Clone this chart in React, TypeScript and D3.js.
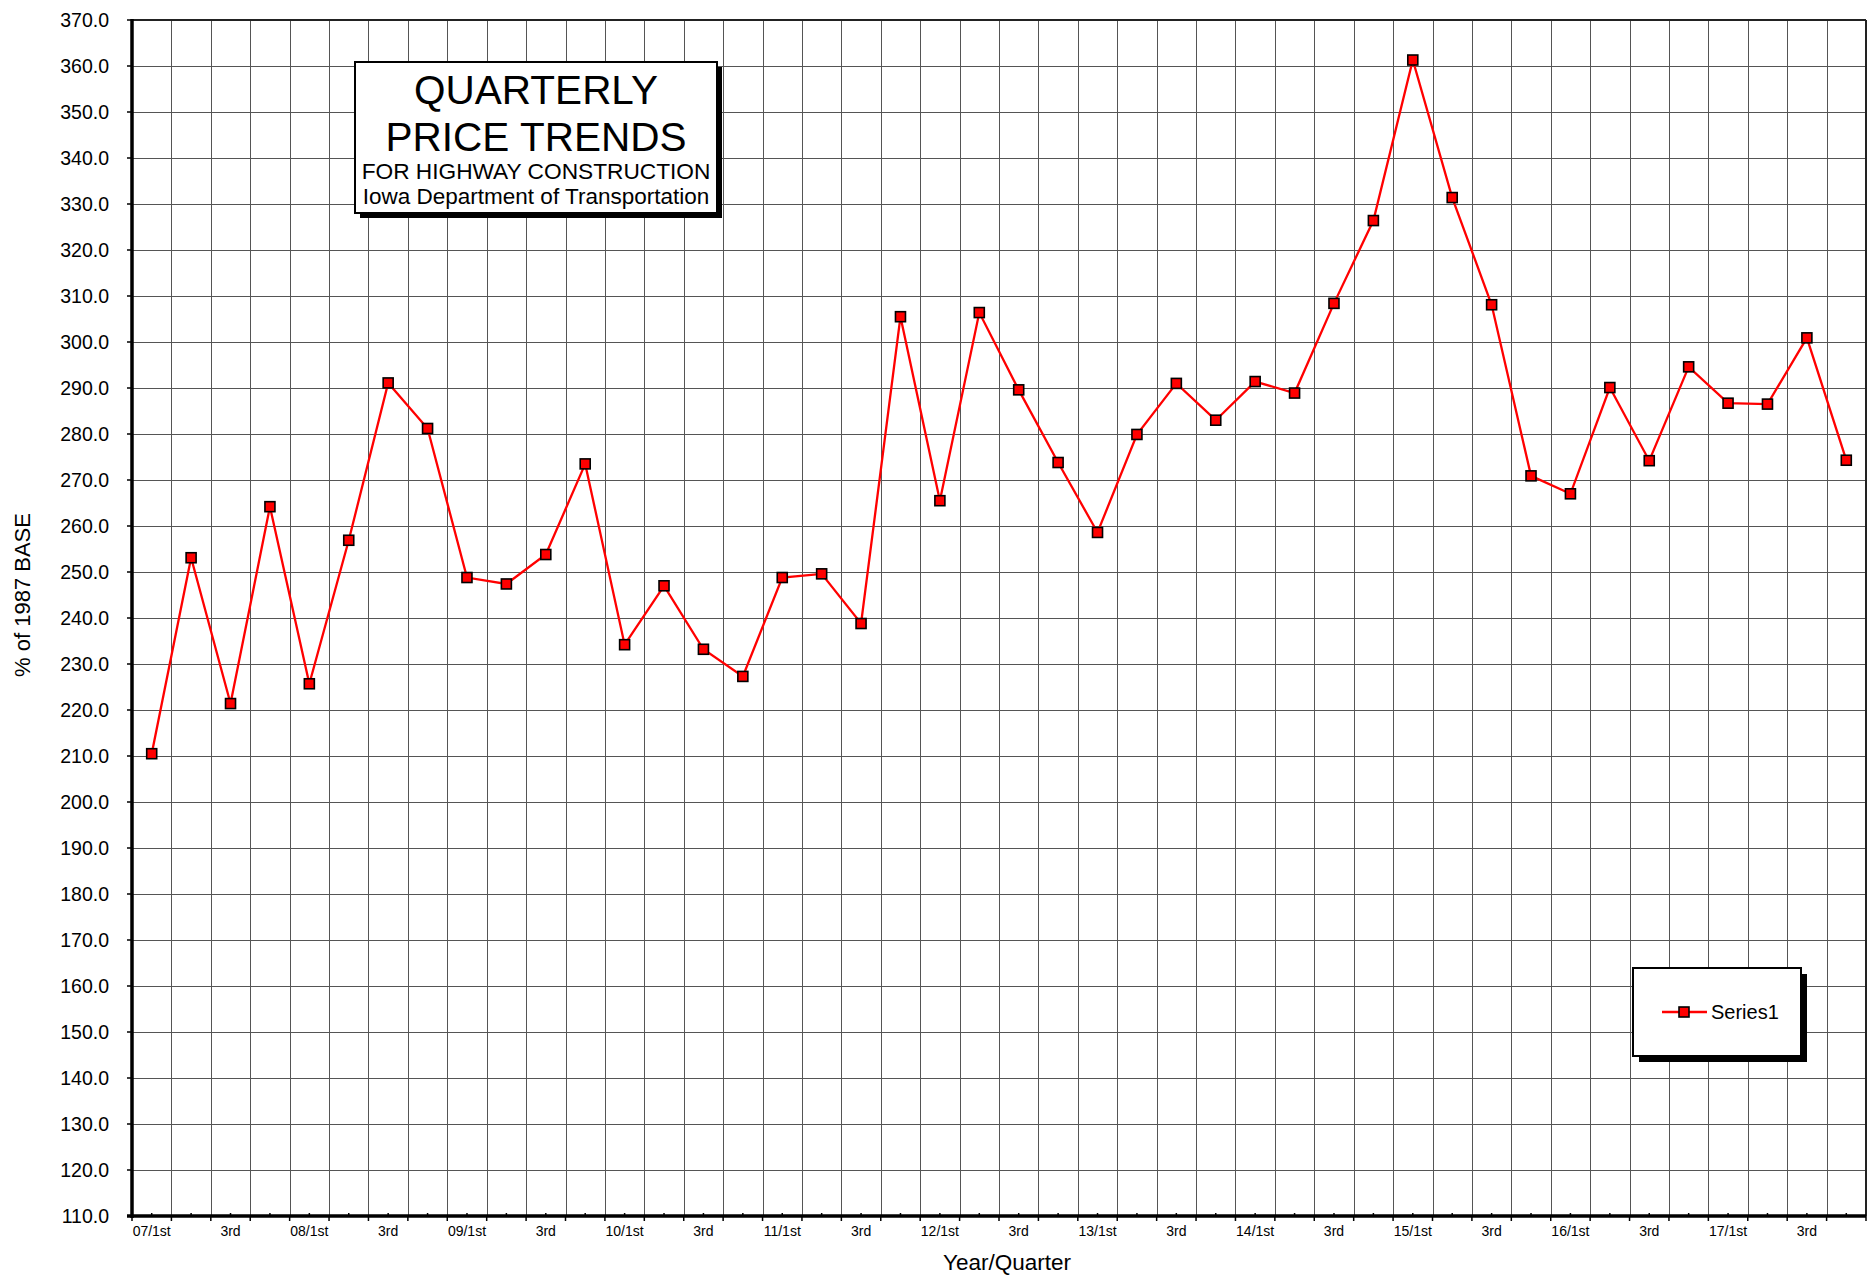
import React from "react";
import * as d3 from "d3";

const categories: string[] = [
  "07/1st", "2nd", "3rd", "4th",
  "08/1st", "2nd", "3rd", "4th",
  "09/1st", "2nd", "3rd", "4th",
  "10/1st", "2nd", "3rd", "4th",
  "11/1st", "2nd", "3rd", "4th",
  "12/1st", "2nd", "3rd", "4th",
  "13/1st", "2nd", "3rd", "4th",
  "14/1st", "2nd", "3rd", "4th",
  "15/1st", "2nd", "3rd", "4th",
  "16/1st", "2nd", "3rd", "4th",
  "17/1st", "2nd", "3rd", "4th",
];

const series1: number[] = [
  210.5, 253.1, 221.4, 264.2,
  225.7, 256.9, 291.1, 281.2,
  248.8, 247.4, 253.8, 273.5,
  234.2, 247.0, 233.2, 227.3,
  248.8, 249.6, 238.8, 305.5,
  265.5, 306.4, 289.6, 273.8,
  258.6, 279.9, 291.0, 283.0,
  291.4, 288.9, 308.4, 326.4,
  361.3, 331.4, 308.1, 270.9,
  267.0, 290.1, 274.2, 294.6,
  286.7, 286.5, 300.9, 274.3,
];

const yTicks: number[] = d3.range(110, 371, 10);

const titleLines: string[] = [
  "QUARTERLY",
  "PRICE TRENDS",
  "FOR HIGHWAY CONSTRUCTION",
  "Iowa Department of Transportation",
];

const xAxisTitle = "Year/Quarter";
const yAxisTitle = "% of 1987 BASE";
const seriesName = "Series1";

const W = 1869;
const H = 1278;
const left = 132;
const right = 1866;
const top = 20;
const bottom = 1216;
const FONT = "'Liberation Sans', Arial, sans-serif";
const GRID = "#555";

export default function App() {
  const x = d3
    .scaleBand<number>()
    .domain(d3.range(categories.length))
    .range([left, right])
    .padding(0);
  const y = d3.scaleLinear().domain([110, 370]).range([bottom, top]);
  const bw = x.bandwidth();
  const cx = (i: number) => (x(i) as number) + bw / 2;

  const line = d3
    .line<number>()
    .x((_, i) => cx(i))
    .y((d) => y(d));

  const boundaries = d3.range(categories.length + 1).map((i) => left + i * bw);
  const ms = 10;

  return (
    <svg
      width={W}
      height={H}
      style={{ position: "absolute", left: 0, top: 0, background: "#fff" }}
      fontFamily={FONT}
    >
      <rect x={0} y={0} width={W} height={H} fill="#fff" />
      {/* horizontal grid */}
      {yTicks.map((t) => (
        <line
          key={"h" + t}
          x1={left}
          x2={right}
          y1={Math.round(y(t)) + 0.5}
          y2={Math.round(y(t)) + 0.5}
          stroke={GRID}
          strokeWidth={1}
        />
      ))}
      {/* vertical grid */}
      {boundaries.slice(1, -1).map((bx, i) => (
        <line
          key={"v" + i}
          x1={Math.round(bx) + 0.5}
          x2={Math.round(bx) + 0.5}
          y1={top}
          y2={bottom}
          stroke={GRID}
          strokeWidth={1}
        />
      ))}
      {/* top & right border */}
      <line x1={left} x2={right} y1={top} y2={top} stroke="#222" strokeWidth={2} />
      <line x1={right} x2={right} y1={top} y2={bottom} stroke="#222" strokeWidth={2} />

      {/* y axis */}
      <line x1={left} x2={left} y1={top - 1} y2={bottom + 2} stroke="#000" strokeWidth={3.5} />
      {yTicks.map((t) => (
        <g key={"yt" + t}>
          <line x1={left - 5} x2={left} y1={y(t)} y2={y(t)} stroke="#000" strokeWidth={1.5} />
          <text
            x={109}
            y={y(t)}
            dy="0.35em"
            textAnchor="end"
            fontSize={19.5}
            fill="#000"
          >
            {t.toFixed(1)}
          </text>
        </g>
      ))}

      {/* x axis */}
      <line x1={left - 5} x2={right} y1={bottom} y2={bottom} stroke="#000" strokeWidth={3.5} />
      {boundaries.map((bx, i) => (
        <line key={"xt" + i} x1={bx} x2={bx} y1={bottom} y2={bottom + 5} stroke="#000" strokeWidth={1.5} />
      ))}
      {categories.map((c, i) => (
        <line key={"xm" + i} x1={cx(i)} x2={cx(i)} y1={bottom - 3} y2={bottom} stroke="#000" strokeWidth={1.5} />
      ))}
      {categories.map((c, i) =>
        i % 2 === 0 ? (
          <text key={"xl" + i} x={cx(i)} y={1236} textAnchor="middle" fontSize={14} fill="#000">
            {c}
          </text>
        ) : null
      )}

      {/* axis titles */}
      <text x={1007} y={1270} textAnchor="middle" fontSize={22.5} fill="#000">
        {xAxisTitle}
      </text>
      <text
        transform={`translate(30,595) rotate(-90)`}
        textAnchor="middle"
        fontSize={22}
        fill="#000"
      >
        {yAxisTitle}
      </text>

      {/* series */}
      <path d={line(series1) || ""} fill="none" stroke="#ff0000" strokeWidth={2.3} />
      {series1.map((v, i) => (
        <rect
          key={"m" + i}
          x={cx(i) - ms / 2}
          y={y(v) - ms / 2}
          width={ms}
          height={ms}
          fill="#ff0000"
          stroke="#000"
          strokeWidth={1.6}
        />
      ))}

      {/* title box */}
      <rect x={360} y={67} width={362} height={151} fill="#000" />
      <rect x={355} y={62} width={362} height={151} fill="#fff" stroke="#000" strokeWidth={2} />
      <text x={536} y={104} textAnchor="middle" fontSize={40.5} fill="#000">
        {titleLines[0]}
      </text>
      <text x={536} y={151} textAnchor="middle" fontSize={40.5} fill="#000">
        {titleLines[1]}
      </text>
      <text x={536} y={179} textAnchor="middle" fontSize={22.7} fill="#000">
        {titleLines[2]}
      </text>
      <text x={536} y={204} textAnchor="middle" fontSize={22.5} fill="#000">
        {titleLines[3]}
      </text>

      {/* legend */}
      <rect x={1639} y={974} width={168} height={88} fill="#000" />
      <rect x={1633} y={968} width={168} height={88} fill="#fff" stroke="#000" strokeWidth={2} />
      <line x1={1662} x2={1707} y1={1012} y2={1012} stroke="#ff0000" strokeWidth={2.3} />
      <rect x={1684 - ms / 2} y={1012 - ms / 2} width={ms} height={ms} fill="#ff0000" stroke="#000" strokeWidth={1.6} />
      <text x={1711} y={1019} fontSize={20} fill="#000">
        {seriesName}
      </text>
    </svg>
  );
}
